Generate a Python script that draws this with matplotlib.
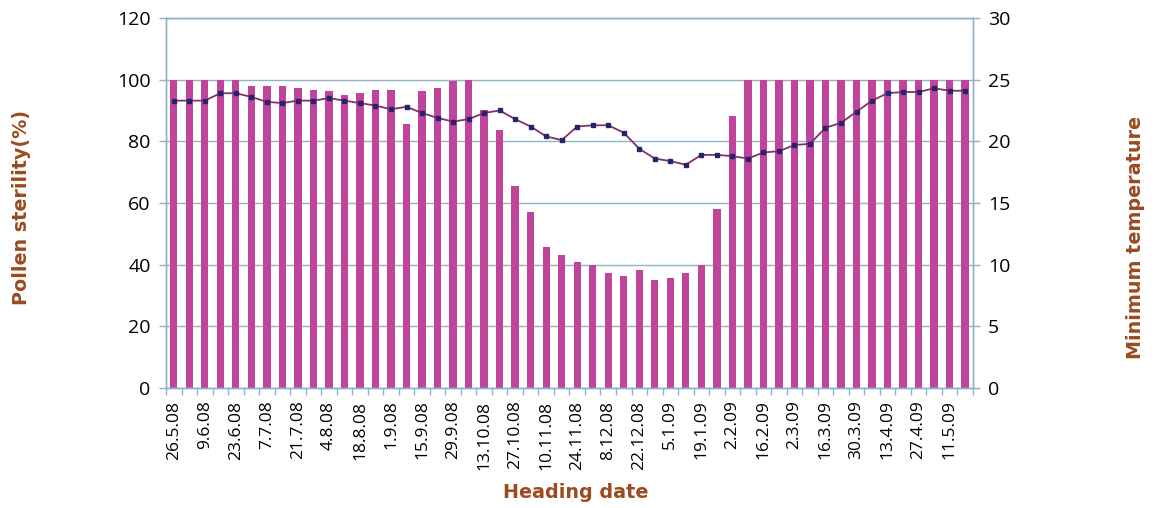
import matplotlib
matplotlib.use("Agg")
import matplotlib.pyplot as plt
import numpy as np

plt.rcParams['font.family'] = ['Open Sans', 'DejaVu Sans']

week_labels = ["26.5.08", "9.6.08", "23.6.08", "7.7.08", "21.7.08", "4.8.08", "18.8.08",
               "1.9.08", "15.9.08", "29.9.08", "13.10.08", "27.10.08", "10.11.08",
               "24.11.08", "8.12.08", "22.12.08", "5.1.09", "19.1.09", "2.2.09",
               "16.2.09", "2.3.09", "16.3.09", "30.3.09", "13.4.09", "27.4.09", "11.5.09"]

pollen_sterility = [100, 100, 100, 100, 100, 97.8, 97.8, 97.8, 97.3, 96.8,
                    96.2, 95.1, 95.7, 96.8, 96.8, 85.6, 96.2, 97.3, 99.5, 100,
                    90.3, 83.8, 65.4, 57.0, 45.7, 43.0, 40.8, 40.0, 37.3, 36.2,
                    38.4, 35.1, 35.7, 37.3, 40.0, 58.0, 88.3, 100, 100, 100,
                    100, 100, 100, 100, 100, 100, 100, 100, 100, 100,
                    100, 100]

min_temperature = [23.3, 23.3, 23.3, 23.9, 23.9, 23.6, 23.2, 23.1, 23.3, 23.3,
                   23.5, 23.3, 23.1, 22.9, 22.6, 22.8, 22.3, 21.9, 21.6, 21.8,
                   22.3, 22.5, 21.8, 21.2, 20.4, 20.1, 21.2, 21.3, 21.3, 20.7,
                   19.4, 18.6, 18.4, 18.1, 18.9, 18.9, 18.8, 18.6, 19.1, 19.2,
                   19.7, 19.8, 21.1, 21.5, 22.4, 23.3, 23.9, 24.0, 24.0, 24.3,
                   24.1, 24.1]

n = len(pollen_sterility)
x = np.arange(n)

axis_col = "#8fb3c4"
label_col = "#9c4a20"

fig = plt.figure(figsize=(11.56, 5.08), dpi=100)
ax = fig.add_axes([0.1436, 0.2362, 0.698, 0.7284])

ax.bar(x, pollen_sterility, width=0.47, color="#c1449b", zorder=2)
ax.set_xlim(-0.5, n - 0.5)
ax.set_ylim(0, 120)
ax.set_yticks(np.arange(0, 121, 20))
ax.yaxis.grid(True, color=axis_col, linewidth=1.0, zorder=0)
ax.set_axisbelow(True)

for s in ["top", "left", "right", "bottom"]:
    ax.spines[s].set_color(axis_col)
    ax.spines[s].set_linewidth(1.0)

ax.set_xticks(x[::2])
ax.set_xticklabels(week_labels, rotation=90, fontsize=12.5)
ax.tick_params(axis='x', which='major', length=0, pad=9)
ax.set_xticks(np.arange(-0.5, n, 1.0), minor=True)
ax.tick_params(axis='x', which='minor', length=5, color=axis_col, width=1.0)
ax.tick_params(axis='y', length=5, color=axis_col, width=1.0, labelsize=14, pad=6)

ax2 = ax.twinx()
ax2.plot(x, min_temperature, color="#843063", linewidth=1.3,
         marker="s", markersize=3.5, markerfacecolor="#26246e",
         markeredgecolor="#26246e", zorder=3)
ax2.set_ylim(0, 30)
ax2.set_yticks(np.arange(0, 31, 5))
ax2.tick_params(axis='y', length=5, color=axis_col, width=1.0, labelsize=14, pad=6)
for s in ["top", "left", "right", "bottom"]:
    ax2.spines[s].set_color(axis_col)
    ax2.spines[s].set_linewidth(1.0)

lab_font = dict(fontsize=13.8, fontweight="bold", color=label_col, family="DejaVu Sans")
fig.text(0.019, 0.592, "Pollen sterility(%)", rotation=90, va="center", ha="center", **lab_font)
fig.text(0.982, 0.533, "Minimum temperature", rotation=90, va="center", ha="center", **lab_font)
fig.text(0.498, 0.03, "Heading date", va="center", ha="center", **lab_font)

fig.savefig("out.png", dpi=100)
